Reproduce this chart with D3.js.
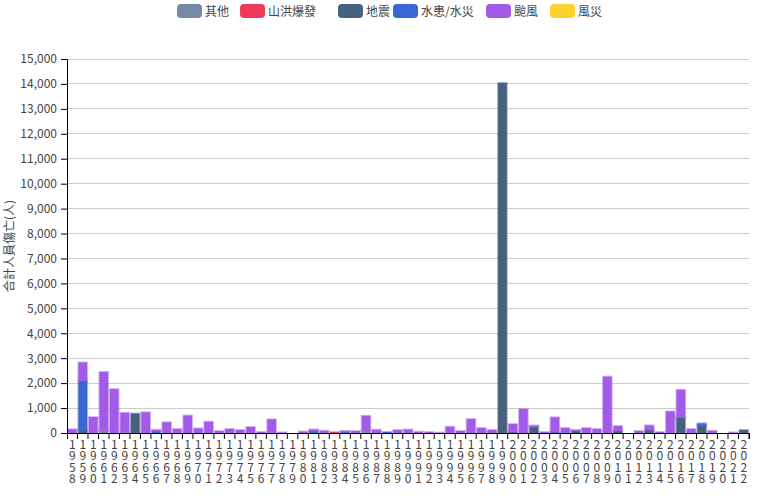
<!DOCTYPE html>
<html><head><meta charset="utf-8">
<script src="https://cdn.jsdelivr.net/npm/d3@7/dist/d3.min.js"></script>
<style>
body{margin:0;background:#fff;}
text{font-family:"Noto Sans CJK TC","Noto Sans",sans-serif;}
</style></head>
<body><svg id="c" width="780" height="500"></svg>
<script>
const years = d3.range(1958, 2023).map(String);
const seriesNames = ["其他","山洪爆發","地震","水患/水災","颱風","風災"];
const colors = ["#7689a6","#ee3b5b","#48617f","#3a67d6","#a35ae8","#fdd22f"];
// values per year, 1958..2022
const other = [0,0,0,100,0,30,0,0,0,0, 0,0,0,0,0,0,0,0,0,0, 0,0,0,0,0,0,0,0,100,0, 0,0,0,0,0,0,0,0,0,0, 0,0,0,0,0,0,0,0,0,0, 0,0,0,0,0,0,0,0,0,0, 0,0,0,0,0];
const flood = [0,0,0,0,0,0,0,0,0,0, 0,0,0,0,0,0,0,0,0,0, 0,0,0,0,0,40,0,0,0,0, 0,0,0,0,0,0,0,0,0,0, 0,0,0,0,0,0,0,0,0,0, 0,0,0,0,0,0,0,0,0,0, 0,0,0,0,0];
const quake = [0,110,0,0,0,0,780,0,0,0, 0,0,0,0,0,0,0,0,0,0, 0,0,0,30,0,0,0,0,0,0, 0,0,0,0,0,0,0,0,0,0, 30,14040,50,0,250,0,0,0,100,0, 0,0,90,0,0,130,0,0,630,0, 305,0,0,0,120];
const water = [0,1985,0,0,0,0,0,0,80,0, 0,0,0,0,0,0,0,0,0,10, 0,0,0,60,0,0,60,0,0,0, 40,0,0,0,0,0,0,0,0,0, 0,0,0,0,0,0,40,20,0,0, 0,0,0,0,0,0,0,0,0,0, 80,0,0,0,0];
const typhoon = [150,735,640,2350,1760,780,0,830,50,430, 160,700,185,450,80,160,120,240,40,540, 25,0,60,50,90,0,20,80,590,130, 0,120,140,50,40,15,250,80,560,200, 90,0,310,960,50,40,590,180,20,200, 160,2260,190,0,80,175,40,865,1100,160, 0,90,0,25,0];
const wind = years.map(()=>0);
const yTicks = d3.range(0, 15001, 1000);

const svg = d3.select("#c");
const m = {l:67, r:749, t:59, b:433};
const x = d3.scaleBand().domain(years).range([m.l, m.r]).paddingInner(0.17).paddingOuter(0.085);
const y = d3.scaleLinear().domain([0,15000]).range([m.b, m.t]);

const seriesData = [other, flood, quake, water, typhoon, wind];
const rows = years.map((yr,i)=>{const o={year:yr}; seriesNames.forEach((s,k)=>o[s]=seriesData[k][i]); return o;});
const stacked = d3.stack().keys(seriesNames)(rows);

// grid
svg.append("g").selectAll("line").data(yTicks.slice(1)).join("line")
  .attr("x1", m.l).attr("x2", m.r).attr("y1", d=>y(d)).attr("y2", d=>y(d))
  .attr("stroke","#cccccc").attr("stroke-width",1).attr("shape-rendering","crispEdges");

// bars
const g = svg.append("g");
stacked.forEach((layer,k)=>{
  g.append("g").selectAll("rect").data(layer.filter(d=>d[1]-d[0]>0)).join("rect")
   .attr("x", d=>x(d.data.year)).attr("width", x.bandwidth())
   .attr("y", d=>y(d[1])).attr("height", d=>y(d[0])-y(d[1]))
   .attr("fill", colors[k]).attr("stroke", colors[k]).attr("stroke-opacity",0.45).attr("stroke-width",2);
});

// y axis
const ya = svg.append("g").attr("transform",`translate(${m.l},0)`)
  .call(d3.axisLeft(y).tickValues(yTicks).tickFormat(d3.format(",")).tickSize(6).tickPadding(4));
ya.select(".domain").attr("stroke","#000");
ya.selectAll(".tick line").attr("stroke","#000");
ya.selectAll("text").attr("font-size",12).attr("fill","#444");

// x axis
const xa = svg.append("g").attr("transform",`translate(0,${m.b})`)
  .call(d3.axisBottom(x).tickSize(6).tickFormat(""));
xa.select(".domain").attr("stroke","#000");
xa.selectAll(".tick line").attr("stroke","#000").attr("transform",`translate(${x.bandwidth()/2+x.step()*x.paddingInner()/2},0)`);
xa.selectAll(".tick").each(function(d){
  const t = d3.select(this).append("text").attr("text-anchor","middle").attr("font-size",12).attr("fill","#444").attr("y",16);
  d.split("").forEach((ch,i)=>t.append("tspan").attr("x",0).attr("dy", i===0?0:11.3).text(ch));
});

// y title
svg.append("text").attr("transform",`translate(14,${(m.t+m.b)/2}) rotate(-90)`)
  .attr("text-anchor","middle").attr("font-size",12).attr("fill","#444").text("合計人員傷亡(人)");

// legend
const legendX = [177,240,338,393,486,550];
const lg = svg.append("g");
seriesNames.forEach((s,k)=>{
  lg.append("rect").attr("x",legendX[k]).attr("y",4).attr("width",25).attr("height",14).attr("rx",4).attr("fill",colors[k]);
  lg.append("text").attr("x",legendX[k]+28).attr("y",15.5).attr("font-size",12).attr("fill","#444").text(s);
});
</script></body></html>
